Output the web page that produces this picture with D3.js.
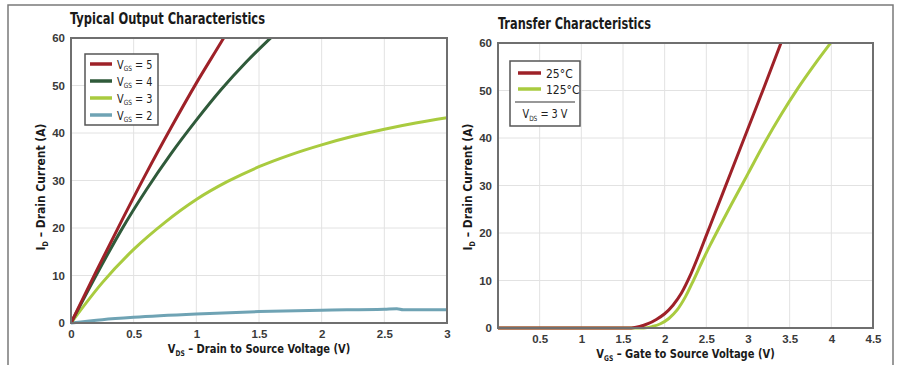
<!DOCTYPE html>
<html>
<head>
<meta charset="utf-8">
<script src="https://cdn.jsdelivr.net/npm/d3@7"></script>
<style>
  body { margin: 0; background: #fff; }
  svg { font-family: "Liberation Sans Narrow", "DejaVu Sans Condensed", sans-serif; }
</style>
</head>
<body>
<svg id="chart" width="897" height="365"></svg>
<script>
// Output characteristics: ID (A) vs VDS (V) for several VGS
var vgs5 = [[0,0],[0.2,10.8],[0.4,21.3],[0.6,31.5],[0.8,41.2],[1.0,50.5],[1.2,59.2],[1.25,61.4]];
var vgs4 = [[0,0],[0.2,10],[0.4,19.5],[0.6,28],[0.8,35.7],[1.0,42.7],[1.2,49.2],[1.4,55],[1.6,60.2]];
var vgs3 = [[0,0],[0.25,8.5],[0.5,15.5],[0.75,21.2],[1,26],[1.25,29.8],[1.5,32.9],[1.75,35.4],[2,37.5],[2.25,39.3],[2.5,40.8],[2.75,42.1],[3,43.2]];
var vgs2 = [[0,0],[0.25,0.7],[0.5,1.2],[1,1.9],[1.5,2.4],[2,2.7],[2.5,2.9],[2.6,3.0],[2.65,2.8],[3,2.8]];

// Transfer characteristics: ID (A) vs VGS (V), VDS = 3 V
var t25 = [[0,0],[1.6,0],[1.7,0.3],[1.8,0.9],[1.9,1.8],[2.0,3.0],[2.1,4.8],[2.2,7.3],[2.3,10.8],[2.4,15],[2.5,19.5],[2.6,24],[2.8,33],[3.0,42],[3.2,51],[3.4,60.2]];
var t125 = [[0,0],[1.75,0],[1.85,0.3],[1.95,0.9],[2.05,2],[2.15,3.8],[2.25,6.6],[2.35,10.2],[2.45,14],[2.55,17.6],[2.65,21],[2.8,26],[3.0,32.5],[3.2,39],[3.4,45],[3.6,50.5],[3.8,55.5],[4.0,60.2]];

var leftXTicks = [0, 0.5, 1, 1.5, 2, 2.5, 3];
var rightXTicks = [0.5, 1, 1.5, 2, 2.5, 3, 3.5, 4, 4.5];
var yTicks = [0, 10, 20, 30, 40, 50, 60];

var svg = d3.select("#chart");

// outer border
svg.append("path")
  .attr("d", "M8,370 L8,5 L893,5 L893,370")
  .attr("fill", "none")
  .attr("stroke", "#7a7a7a")
  .attr("stroke-width", 1.5);

// text with a subscript, squeezed horizontally like a condensed face
function subText(parent, tx, ty, main, sub, rest, size, sx, anchor, rot) {
  var t = parent.append("text")
    .attr("transform", "translate(" + tx + "," + ty + ")" + (rot ? " rotate(-90)" : "") + " scale(" + sx + ",1)")
    .attr("text-anchor", anchor || "start")
    .attr("font-size", size);
  t.append("tspan").text(main);
  t.append("tspan").attr("font-size", size * 0.6).attr("dy", size * 0.22).text(sub);
  t.append("tspan").attr("dy", -size * 0.22).text(rest);
  return t;
}

function drawPanel(opt) {
  var g = svg.append("g");
  var x = d3.scaleLinear().domain(opt.xDomain).range([opt.left, opt.right]);
  var y = d3.scaleLinear().domain([0, 60]).range([opt.bottom, opt.top]);

  // grid
  g.selectAll(".vg").data(opt.xTicks).enter().append("line")
    .attr("x1", function (d) { return x(d); }).attr("x2", function (d) { return x(d); })
    .attr("y1", opt.top).attr("y2", opt.bottom)
    .attr("stroke", "#e2e2e2").attr("stroke-width", 1);
  g.selectAll(".hg").data(yTicks).enter().append("line")
    .attr("x1", opt.left).attr("x2", opt.right)
    .attr("y1", function (d) { return y(d); }).attr("y2", function (d) { return y(d); })
    .attr("stroke", "#e2e2e2").attr("stroke-width", 1);

  // tick labels
  var xAxis = g.append("g").attr("transform", "translate(0," + opt.bottom + ")")
    .call(d3.axisBottom(x).tickValues(opt.xTicks).tickSize(0).tickPadding(7).tickFormat(d3.format("")));
  var yAxis = g.append("g").attr("transform", "translate(" + opt.left + ",0)")
    .call(d3.axisLeft(y).tickValues(yTicks).tickSize(0).tickPadding(6));
  [xAxis, yAxis].forEach(function (a) {
    a.select(".domain").remove();
    a.selectAll("text").attr("font-size", 11.5).attr("font-weight", "bold")
      .attr("fill", "#3a3a3a").attr("font-family", "inherit");
  });

  // curves
  var line = d3.line()
    .x(function (d) { return x(d[0]); })
    .y(function (d) { return y(d[1]); })
    .curve(d3.curveMonotoneX);
  var clip = "clip" + opt.id;
  svg.append("clipPath").attr("id", clip).append("rect")
    .attr("x", opt.left).attr("y", opt.top)
    .attr("width", opt.right - opt.left).attr("height", opt.bottom - opt.top + 2);
  opt.series.forEach(function (s) {
    g.append("path").datum(s.data)
      .attr("d", line)
      .attr("fill", "none")
      .attr("stroke", s.color)
      .attr("stroke-width", 3)
      .attr("clip-path", "url(#" + clip + ")");
  });

  // frame
  g.append("rect")
    .attr("x", opt.left).attr("y", opt.top)
    .attr("width", opt.right - opt.left).attr("height", opt.bottom - opt.top)
    .attr("fill", "none").attr("stroke", "#6f6f6f").attr("stroke-width", 2);

  // title
  g.append("text").attr("x", opt.titleX).attr("y", opt.titleY)
    .attr("font-size", 16).attr("font-weight", "bold").attr("fill", "#1a1a1a")
    .attr("textLength", opt.titleLen).attr("lengthAdjust", "spacingAndGlyphs")
    .text(opt.title);

  // x axis title
  subText(g, (opt.left + opt.right) / 2, opt.bottom + 30, "V", opt.xSub, " \u2013 " + opt.xLabel, 13, 0.85, "middle")
    .attr("font-weight", "bold").attr("fill", "#1a1a1a");

  // y axis title
  subText(g, opt.yTitleX, opt.yTitleY, "I", "D", " \u2013 Drain Current (A)", 13, 0.92, "middle", true)
    .attr("font-weight", "bold").attr("fill", "#1a1a1a");

  return { x: x, y: y, g: g };
}

drawPanel({
  id: "L", left: 71, right: 447, top: 38, bottom: 323,
  xDomain: [0, 3], xTicks: leftXTicks,
  title: "Typical Output Characteristics", titleX: 70, titleY: 24, titleLen: 195,
  xSub: "DS", xLabel: "Drain to Source Voltage (V)",
  yTitleX: 45, yTitleY: 187,
  series: [
    { data: vgs2, color: "#6fa3b4" },
    { data: vgs3, color: "#a9cb3f" },
    { data: vgs4, color: "#2f5a3a" },
    { data: vgs5, color: "#9e2128" }
  ]
});

drawPanel({
  id: "R", left: 498, right: 873, top: 43, bottom: 328,
  xDomain: [0, 4.5], xTicks: rightXTicks,
  title: "Transfer Characteristics", titleX: 498, titleY: 29, titleLen: 153,
  xSub: "GS", xLabel: "Gate to Source Voltage (V)",
  yTitleX: 472, yTitleY: 187,
  series: [
    { data: t125, color: "#a9cb3f" },
    { data: t25, color: "#9e2128" }
  ]
});

// left legend
var legL = [
  { v: "5", color: "#9e2128" },
  { v: "4", color: "#2f5a3a" },
  { v: "3", color: "#a9cb3f" },
  { v: "2", color: "#6fa3b4" }
];
var lg = svg.append("g");
lg.append("rect").attr("x", 85).attr("y", 54).attr("width", 73).attr("height", 71)
  .attr("fill", "#fff").attr("stroke", "#555").attr("stroke-width", 1.5);
legL.forEach(function (d, i) {
  var yy = 64 + i * 17;
  lg.append("line").attr("x1", 90).attr("x2", 112).attr("y1", yy).attr("y2", yy)
    .attr("stroke", d.color).attr("stroke-width", 3.5);
  subText(lg, 117, yy + 4.5, "V", "GS", " = " + d.v, 12, 0.9).attr("fill", "#222");
});

// right legend
var legR = [
  { label: "25\u00b0C", color: "#9e2128" },
  { label: "125\u00b0C", color: "#a9cb3f" }
];
var rg = svg.append("g");
rg.append("rect").attr("x", 510).attr("y", 61).attr("width", 70).attr("height", 65)
  .attr("fill", "#fff").attr("stroke", "#555").attr("stroke-width", 1.5);
legR.forEach(function (d, i) {
  var yy = 73 + i * 16;
  rg.append("line").attr("x1", 518).attr("x2", 541).attr("y1", yy).attr("y2", yy)
    .attr("stroke", d.color).attr("stroke-width", 3.5);
  rg.append("text").attr("x", 546).attr("y", yy + 4.5)
    .attr("font-size", 12).attr("fill", "#222").text(d.label);
});
rg.append("line").attr("x1", 515).attr("x2", 575).attr("y1", 102).attr("y2", 102)
  .attr("stroke", "#333").attr("stroke-width", 1.2);
subText(rg, 545, 118, "V", "DS", " = 3 V", 12, 0.9, "middle").attr("fill", "#222");
</script>
</body>
</html>
